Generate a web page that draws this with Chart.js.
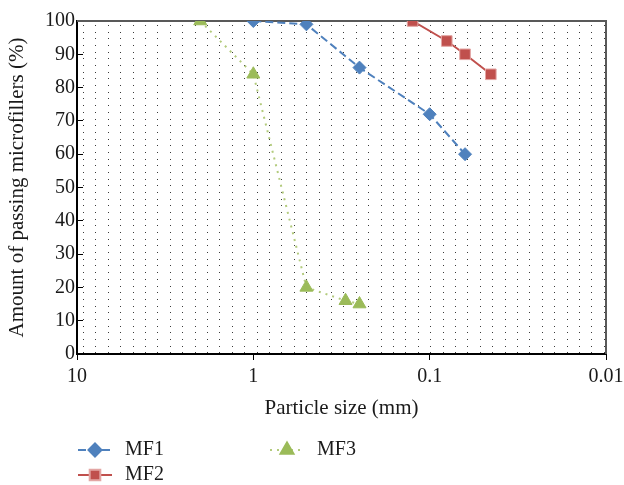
<!DOCTYPE html>
<html lang="en">
<head>
    <meta charset="UTF-8">
    <title>Particle size distribution of microfillers</title>
    <script src="https://cdn.jsdelivr.net/npm/chart.js"></script>
    <style>
        body {
            margin: 0;
            background-color: white;
        }
        #chartBox {
            width: 624px;
            height: 485px;
        }
    </style>
</head>
<body>
    <div id="chartBox">
        <canvas id="sizeChart"></canvas>
    </div>

    <script>
        // particle size (mm) and amount passing (%)
        const mf1Size = [1, 0.5, 0.25, 0.1, 0.063];
        const mf1Pass = [100, 99, 86, 72, 60];
        const mf2Size = [0.125, 0.08, 0.063, 0.045];
        const mf2Pass = [100, 94, 90, 84];
        const mf3Size = [2, 1, 0.5, 0.3, 0.25];
        const mf3Pass = [100, 84, 20, 16, 15];
        const xTickValues = [10, 1, 0.1, 0.01];
        const seriesNames = ['MF1', 'MF2', 'MF3'];

        const serif = "'Liberation Serif', 'DejaVu Serif', serif";

        function toPoints(xs, ys) {
            return xs.map((x, i) => ({ x: x, y: ys[i] }));
        }

        // dotted pattern fill of the plot area + top/right frame
        const plotBackground = {
            id: 'plotBackground',
            beforeDatasetsDraw(chart) {
                const ctx = chart.ctx;
                const a = chart.chartArea;
                ctx.save();
                ctx.fillStyle = '#3a3a3a';
                for (let y = a.top + 4; y < a.bottom - 1; y += 6.68) {
                    for (let x = a.left + 6; x < a.right - 1; x += 12.4) {
                        ctx.fillRect(Math.round(x), Math.round(y), 1, 1);
                    }
                }
                ctx.strokeStyle = '#595959';
                ctx.lineWidth = 2;
                ctx.beginPath();
                ctx.moveTo(a.left, a.top);
                ctx.lineTo(a.right, a.top);
                ctx.lineTo(a.right, a.bottom);
                ctx.stroke();
                ctx.restore();
            }
        };

        // Excel-like legend: line + marker, two columns
        const lineLegend = {
            id: 'lineLegend',
            afterDraw(chart) {
                const ctx = chart.ctx;
                const left = chart.chartArea.left;
                const slots = [
                    { ds: 0, x: left + 1, y: 450 },
                    { ds: 2, x: left + 193, y: 450 },
                    { ds: 1, x: left + 1, y: 475 }
                ];
                ctx.save();
                slots.forEach(s => {
                    const ds = chart.data.datasets[s.ds];
                    ctx.strokeStyle = ds.borderColor;
                    ctx.lineWidth = ds.borderWidth;
                    ctx.setLineDash(ds.borderDash || []);
                    ctx.beginPath();
                    ctx.moveTo(s.x, s.y);
                    ctx.lineTo(s.x + 34, s.y);
                    ctx.stroke();
                    ctx.setLineDash([]);
                    ctx.fillStyle = ds.pointBackgroundColor;
                    ctx.strokeStyle = ds.pointBorderColor;
                    Chart.helpers.drawPoint(ctx, {
                        pointStyle: ds.pointStyle,
                        radius: ds.pointRadius,
                        rotation: 0,
                        borderWidth: 1
                    }, s.x + 17, s.y);
                    ctx.fillStyle = '#1a1a1a';
                    ctx.font = '20px ' + serif;
                    ctx.textBaseline = 'middle';
                    ctx.textAlign = 'left';
                    ctx.fillText(ds.label, s.x + 47, s.y);
                });
                ctx.restore();
            }
        };

        const ctx = document.getElementById('sizeChart').getContext('2d');
        new Chart(ctx, {
            type: 'line',
            data: {
                datasets: [
                    {
                        label: seriesNames[0],
                        data: toPoints(mf1Size, mf1Pass),
                        borderColor: '#4F81BD',
                        borderWidth: 2,
                        borderDash: [8, 4],
                        pointStyle: 'rectRot',
                        pointRadius: 6.5,
                        pointBackgroundColor: '#4F81BD',
                        pointBorderColor: '#4F81BD',
                        pointBorderWidth: 1
                    },
                    {
                        label: seriesNames[1],
                        data: toPoints(mf2Size, mf2Pass),
                        borderColor: '#C0504D',
                        borderWidth: 2,
                        pointStyle: 'rect',
                        pointRadius: 7.5,
                        pointBackgroundColor: '#C0504D',
                        pointBorderColor: '#E3A6A4',
                        pointBorderWidth: 1
                    },
                    {
                        label: seriesNames[2],
                        data: toPoints(mf3Size, mf3Pass),
                        borderColor: '#B3CB7D',
                        borderWidth: 2,
                        borderDash: [2, 5],
                        pointStyle: 'triangle',
                        pointRadius: 7.5,
                        pointBackgroundColor: '#9BBB59',
                        pointBorderColor: '#9BBB59',
                        pointBorderWidth: 1
                    }
                ]
            },
            options: {
                responsive: true,
                maintainAspectRatio: false,
                animation: false,
                layout: {
                    padding: { top: 21, right: 18, bottom: 64, left: 0 }
                },
                plugins: {
                    legend: { display: false },
                    tooltip: { enabled: false }
                },
                scales: {
                    x: {
                        type: 'logarithmic',
                        reverse: true,
                        min: 0.01,
                        max: 10,
                        afterBuildTicks: (scale) => {
                            scale.ticks = xTickValues.map(v => ({ value: v }));
                        },
                        afterFit: (scale) => {
                            scale.height = 67;
                            scale.paddingLeft = 0;
                            scale.paddingRight = 0;
                        },
                        ticks: {
                            color: '#1a1a1a',
                            font: { family: serif, size: 20 },
                            padding: 5,
                            maxRotation: 0,
                            autoSkip: false,
                            callback: (v) => String(v)
                        },
                        grid: {
                            drawOnChartArea: false,
                            drawTicks: true,
                            tickLength: 6,
                            color: '#000'
                        },
                        border: { color: '#000', width: 2 },
                        title: {
                            display: true,
                            text: 'Particle size (mm)',
                            color: '#1a1a1a',
                            font: { family: serif, size: 21 },
                            padding: { top: 0, bottom: 0 }
                        }
                    },
                    y: {
                        min: 0,
                        max: 100,
                        afterFit: (scale) => { scale.width = 77; },
                        ticks: {
                            stepSize: 10,
                            color: '#1a1a1a',
                            font: { family: serif, size: 20 },
                            padding: 8
                        },
                        grid: {
                            drawOnChartArea: false,
                            drawTicks: true,
                            tickLength: -6,
                            color: '#000'
                        },
                        border: { color: '#000', width: 2 },
                        title: {
                            display: true,
                            text: 'Amount of passing microfillers (%)',
                            color: '#1a1a1a',
                            font: { family: serif, size: 21 },
                            padding: { top: 5, bottom: 0 }
                        }
                    }
                }
            },
            plugins: [plotBackground, lineLegend]
        });
    </script>
</body>
</html>
